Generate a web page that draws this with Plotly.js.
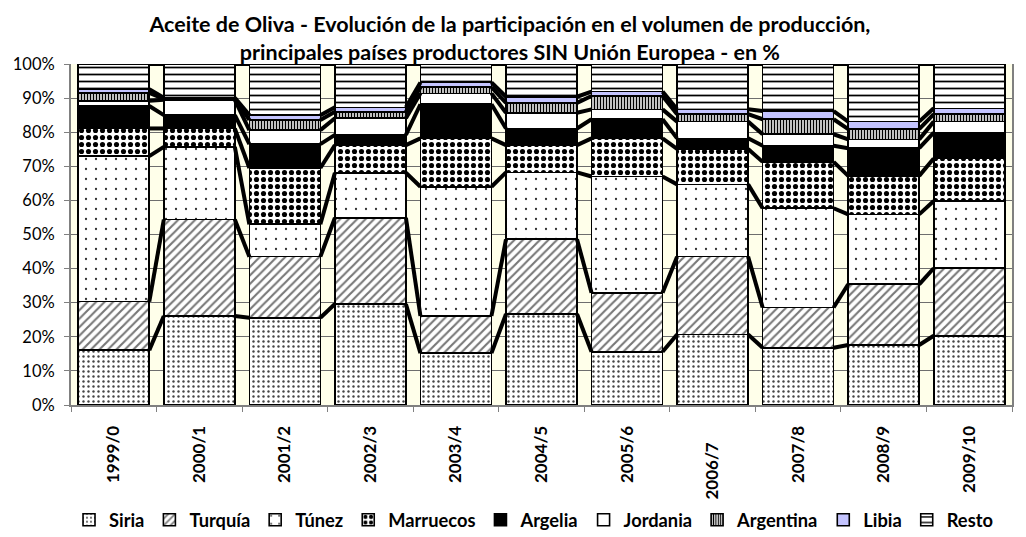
<!DOCTYPE html>
<html>
<head>
<meta charset="utf-8">
<script src="https://cdn.plot.ly/plotly-3.0.1.min.js"></script>
<style>html,body{margin:0;padding:0;background:#fff;}#chart{width:1026px;height:537px;}</style>
</head>
<body>
<div id="chart"></div>
<script>
const categories = ['1999/0','2000/1','2001/2','2002/3','2003/4','2004/5','2005/6','2006/7','2007/8','2008/9','2009/10'];
const siria     = [16.1, 26.1, 25.6, 29.6, 15.2, 26.7, 15.6, 20.7, 16.8, 17.6, 20.3];
const turquia   = [14.2, 28.3, 17.9, 25.3, 10.9, 21.9, 17.3, 22.8, 11.8, 17.8, 19.8];
const tunez     = [42.7, 21.3,  9.5, 13.2, 37.9, 19.6, 34.1, 21.2, 29.1, 20.5, 19.7];
const marruecos = [ 8.1,  5.4, 16.5,  8.1, 14.2,  8.0, 11.2, 10.4, 13.6, 11.3, 12.5];
const argelia   = [ 6.6,  3.9,  7.0,  3.0, 10.0,  4.9,  5.6,  3.1,  4.7,  8.1,  7.6];
const jordania  = [ 1.5,  4.5,  4.1,  4.9,  3.2,  4.6,  2.9,  4.9,  3.4,  2.6,  3.2];
const argentina = [ 2.3,  0.3,  3.0,  1.9,  1.8,  2.9,  3.9,  2.2,  4.4,  3.0,  2.2];
const libia     = [ 1.1,  0.3,  1.4,  1.3,  1.4,  1.8,  1.3,  1.4,  2.4,  2.2,  1.7];
const resto     = [ 7.4,  9.9, 15.0, 12.7,  5.4,  9.6,  8.1, 13.3, 13.8, 16.9, 13.0];
const seriesNames = ['Siria','Turquía','Túnez','Marruecos','Argelia','Jordania','Argentina','Libia','Resto'];

const seriesData = [siria, turquia, tunez, marruecos, argelia, jordania, argentina, libia, resto];
const patterns = [
  {shape: '.', size: 5, solidity: 0.18, fgcolor: '#444', bgcolor: '#fff', fillmode: 'replace'},
  {shape: '/', size: 6, solidity: 0.35, fgcolor: '#777', bgcolor: '#fff', fillmode: 'replace'},
  {shape: '.', size: 10, solidity: 0.04, fgcolor: '#333', bgcolor: '#fff', fillmode: 'replace'},
  {shape: '.', size: 7, solidity: 0.42, fgcolor: '#000', bgcolor: '#fff', fillmode: 'replace'},
  null,
  null,
  {shape: '|', size: 3, solidity: 0.5, fgcolor: '#000', bgcolor: '#fff', fillmode: 'replace'},
  null,
  {shape: '-', size: 7, solidity: 0.25, fgcolor: '#000', bgcolor: '#fff', fillmode: 'replace'}
];
const colors = ['#fff','#fff','#fff','#fff','#000','#fff','#fff','#C4C4FF','#fff'];

const xs = categories.map((c, i) => i);
const bargap = 0.17;
const w = 1 - bargap;

const traces = [];
seriesData.forEach((vals, k) => {
  const m = {color: colors[k], line: {color: '#000', width: 1.6}};
  if (patterns[k]) m.pattern = patterns[k];
  traces.push({type: 'bar', name: '<b>' + seriesNames[k] + '</b>', x: xs, y: vals, width: w, marker: m});
});

// series lines connecting cumulative tops across gaps
const cum = categories.map(() => 0);
seriesData.forEach((vals) => {
  const lx = [], ly = [];
  vals.forEach((v, i) => { cum[i] += v; });
  for (let i = 0; i < categories.length - 1; i++) {
    lx.push(i + w / 2, i + 1 - w / 2, null);
    ly.push(cum[i], cum[i + 1], null);
  }
  traces.push({type: 'scatter', mode: 'lines', x: lx, y: ly, showlegend: false, hoverinfo: 'skip',
    line: {color: '#000', width: 4}, cliponaxis: false});
});

const fontFam = 'Lato, "Open Sans", sans-serif';
const layout = {
  width: 1026, height: 537,
  margin: {l: 71, r: 14, t: 64, b: 132},
  paper_bgcolor: '#fff',
  plot_bgcolor: '#FFFFEA',
  barmode: 'stack',
  title: {
    text: '<b>Aceite de Oliva - Evolución de la participación en el volumen de producción,<br>principales países productores SIN Unión Europea - en %</b>',
    font: {family: fontFam, size: 21.5, color: '#000'},
    x: 0.497, xref: 'container', xanchor: 'center', yref: 'container', y: 0.94, yanchor: 'middle'
  },
  xaxis: {
    range: [-0.5, categories.length - 0.5],
    tickmode: 'array', tickvals: xs,
    ticktext: categories.map(c => '<b>' + c + (c === '2006/7' ? '\u00A0\u00A0\u00A0\u00A0' : '') + '</b>'),
    tickangle: -90, ticks: '', showgrid: false, zeroline: false, automargin: false,
    showline: true, linecolor: '#808080', linewidth: 2, ticklabelstandoff: 12,
    tickfont: {family: fontFam, size: 17, color: '#000'},
    minor: {tick0: -0.5, dtick: 1, ticks: 'outside', ticklen: 5, tickcolor: '#808080', tickwidth: 1, showgrid: false}
  },
  yaxis: {
    range: [0, 100], dtick: 10, ticksuffix: '%', automargin: false,
    ticks: 'outside', ticklen: 5, tickcolor: '#808080', ticklabelstandoff: 6,
    showgrid: true, gridcolor: '#6e6e6e', gridwidth: 1,
    showline: true, mirror: true, linecolor: '#808080', linewidth: 2, zeroline: false,
    tickfont: {family: fontFam, size: 16.5, color: '#000'}
  },
  showlegend: true,
  legend: {
    orientation: 'h', x: 0.52, xref: 'container', xanchor: 'center', yref: 'container', y: 0.032, yanchor: 'middle',
    font: {family: fontFam, size: 18.3, color: '#000'},
    bgcolor: 'rgba(0,0,0,0)',
    itemwidth: 30, tracegroupgap: 0, traceorder: 'normal'
  }
};
Plotly.newPlot('chart', traces, layout, {displayModeBar: false, staticPlot: true});
</script>
</body>
</html>
